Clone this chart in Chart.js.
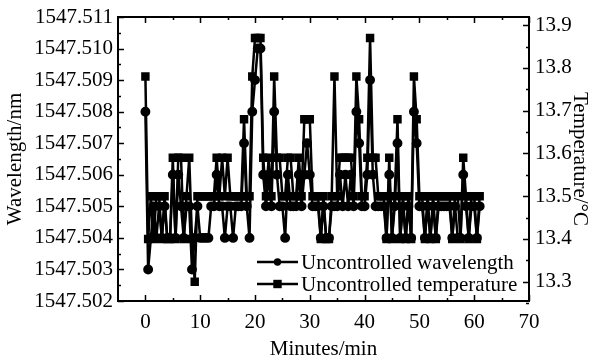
<!DOCTYPE html>
<html>
<head>
<meta charset="utf-8">
<script src="https://cdn.jsdelivr.net/npm/chart.js@4.4.1/dist/chart.umd.min.js"></script>
<style>
  html,body{margin:0;padding:0;background:#fff}
  #wrap{width:594px;height:360px;position:relative}
</style>
</head>
<body>
<div id="wrap"><canvas id="chart"></canvas></div>
<script>
// sample times (min), one reading every half minute
const minutes = [
  0,0.5,1,1.5,2,2.5,3,3.5,4,4.5,
  5,5.5,6,6.5,7,7.5,8,8.5,9,9.5,
  10,10.5,11,11.5,12,12.5,13,13.5,14,14.5,
  15,15.5,16,16.5,17,17.5,18,18.5,19,19.5,
  20,20.5,21,21.5,22,22.5,23,23.5,24,24.5,
  25,25.5,26,26.5,27,27.5,28,28.5,29,29.5,
  30,30.5,31,31.5,32,32.5,33,33.5,34,34.5,
  35,35.5,36,36.5,37,37.5,38,38.5,39,39.5,
  40,40.5,41,41.5,42,42.5,43,43.5,44,44.5,
  45,45.5,46,46.5,47,47.5,48,48.5,49,49.5,
  50,50.5,51,51.5,52,52.5,53,53.5,54,54.5,
  55,55.5,56,56.5,57,57.5,58,58.5,59,59.5,
  60,60.5,61
];
const wavelength = [
  1547.508,1547.503,1547.504,1547.505,1547.504,1547.505,1547.504,1547.505,1547.504,1547.504,
  1547.506,1547.504,1547.506,1547.505,1547.504,1547.505,1547.505,1547.503,1547.504,1547.505,
  1547.504,1547.504,1547.504,1547.504,1547.505,1547.505,1547.506,1547.505,1547.505,1547.504,
  1547.505,1547.505,1547.504,1547.505,1547.505,1547.505,1547.507,1547.505,1547.504,1547.508,
  1547.509,1547.510,1547.510,1547.506,1547.505,1547.506,1547.505,1547.508,1547.506,1547.505,
  1547.505,1547.504,1547.506,1547.505,1547.505,1547.505,1547.506,1547.505,1547.506,1547.507,
  1547.506,1547.505,1547.505,1547.505,1547.504,1547.505,1547.504,1547.504,1547.505,1547.505,
  1547.505,1547.506,1547.505,1547.506,1547.505,1547.506,1547.505,1547.508,1547.507,1547.505,
  1547.505,1547.506,1547.509,1547.506,1547.505,1547.505,1547.505,1547.505,1547.504,1547.506,
  1547.504,1547.505,1547.507,1547.504,1547.505,1547.504,1547.505,1547.504,1547.508,1547.507,
  1547.505,1547.505,1547.504,1547.505,1547.504,1547.505,1547.504,1547.505,1547.505,1547.505,
  1547.505,1547.505,1547.504,1547.505,1547.504,1547.504,1547.506,1547.505,1547.504,1547.505,
  1547.505,1547.504,1547.505
];
const temperature = [
  13.78,13.40,13.50,13.40,13.50,13.50,13.40,13.50,13.40,13.40,
  13.59,13.40,13.59,13.59,13.40,13.50,13.59,13.40,13.30,13.50,
  13.50,13.50,13.50,13.50,13.50,13.50,13.59,13.50,13.59,13.50,
  13.59,13.50,13.50,13.50,13.50,13.50,13.68,13.50,13.50,13.78,
  13.87,13.87,13.87,13.59,13.50,13.59,13.50,13.78,13.59,13.59,
  13.50,13.50,13.59,13.59,13.50,13.50,13.59,13.50,13.68,13.68,
  13.68,13.50,13.50,13.50,13.40,13.50,13.40,13.40,13.50,13.78,
  13.50,13.59,13.59,13.59,13.59,13.59,13.50,13.78,13.68,13.50,
  13.50,13.59,13.87,13.59,13.59,13.50,13.50,13.50,13.40,13.59,
  13.40,13.50,13.68,13.40,13.50,13.40,13.50,13.40,13.78,13.68,
  13.50,13.50,13.40,13.50,13.40,13.50,13.40,13.50,13.50,13.50,
  13.50,13.50,13.40,13.50,13.50,13.40,13.59,13.50,13.40,13.50,
  13.50,13.40,13.50
];
const xTicks = [0,10,20,30,40,50,60,70];
const wlTicks = [1547.502,1547.503,1547.504,1547.505,1547.506,1547.507,1547.508,1547.509,1547.510,1547.511];
const tempTicks = [13.3,13.4,13.5,13.6,13.7,13.8,13.9];
const seriesNames = ['Uncontrolled wavelength','Uncontrolled temperature'];

const FONT = {family:'"Liberation Serif","Times New Roman",serif', size:21, lineHeight:1};
const fontStr = '21px "Liberation Serif","Times New Roman",serif';

// inward ticks, top border and the in-plot legend
const framePlugin = {
  id:'frame',
  afterDatasetsDraw(chart){
    const ctx = chart.ctx, a = chart.chartArea;
    const sx = chart.scales.x, sl = chart.scales.yL, sr = chart.scales.yR;
    ctx.save();
    ctx.strokeStyle = '#000';
    ctx.lineWidth = 2;
    ctx.strokeRect(a.left, a.top, a.right-a.left, a.bottom-a.top);
    ctx.lineWidth = 1.5;
    ctx.beginPath();
    for(let v=0; v<=70; v+=5){
      const px = Math.round(sx.getPixelForValue(v))+0.5;
      const len = (v%10===0) ? 6 : 3;
      ctx.moveTo(px, a.bottom); ctx.lineTo(px, a.bottom-len);
      ctx.moveTo(px, a.top); ctx.lineTo(px, a.top+len);
    }
    for(let i=0;i<=18;i++){
      const v = 1547.502 + i*0.0005;
      const py = Math.round(sl.getPixelForValue(v))+0.5;
      const len = (i%2===0) ? 6 : 3;
      ctx.moveTo(a.left, py); ctx.lineTo(a.left+len, py);
    }
    for(let i=0;i<=13;i++){
      const v = 13.25 + i*0.05;
      if(v > sr.max) break;
      const py = Math.round(sr.getPixelForValue(v))+0.5;
      const len = (i%2===1) ? 6 : 3;
      ctx.moveTo(a.right, py); ctx.lineTo(a.right-len, py);
    }
    ctx.stroke();

    // legend
    const rows = [262, 284];
    chart.data.datasets.forEach((ds, i)=>{
      const y = rows[i];
      ctx.lineWidth = ds.borderWidth;
      ctx.beginPath(); ctx.moveTo(257, y); ctx.lineTo(298, y); ctx.stroke();
      ctx.fillStyle = '#000';
      if(ds.pointStyle==='rect'){
        ctx.fillRect(277.5-ds.pointRadius, y-ds.pointRadius, ds.pointRadius*2, ds.pointRadius*2);
      } else {
        ctx.beginPath(); ctx.arc(277.5, y, ds.pointRadius, 0, Math.PI*2); ctx.fill();
      }
      ctx.font = fontStr;
      ctx.textBaseline = 'middle';
      ctx.textAlign = 'left';
      ctx.fillText(ds.label, 301, y+1);
    });
    ctx.restore();
  }
};

new Chart(document.getElementById('chart'), {
  type:'line',
  data:{
    datasets:[
      {label:seriesNames[0], yAxisID:'yL', data:minutes.map((m,i)=>({x:m,y:wavelength[i]})),
       borderColor:'#000', backgroundColor:'#000', borderWidth:2.5, pointStyle:'circle', pointRadius:3.7, tension:0},
      {label:seriesNames[1], yAxisID:'yR', data:minutes.map((m,i)=>({x:m,y:temperature[i]})),
       borderColor:'#000', backgroundColor:'#000', borderWidth:2.5, pointStyle:'rect', pointRadius:4.2, tension:0}
    ]
  },
  options:{
    responsive:true, maintainAspectRatio:false, animation:false,
    layout:{padding:{top:17,left:0,right:0,bottom:0}},
    plugins:{legend:{display:false}, tooltip:{enabled:false}},
    scales:{
      x:{type:'linear', min:-5, max:70,
         afterBuildTicks:s=>{ s.ticks = xTicks.map(v=>({value:v})); },
         afterFit:s=>{ s.height = 59; },
         grid:{display:false, drawTicks:false}, border:{display:false},
         ticks:{color:'#000', font:FONT, padding:11, maxRotation:0},
         title:{display:true, text:'Minutes/min', color:'#000', font:FONT, padding:{top:0,bottom:0}}},
      yL:{type:'linear', position:'left', min:1547.502, max:1547.511,
         afterBuildTicks:s=>{ s.ticks = wlTicks.map(v=>({value:v})); },
         afterFit:s=>{ s.width = 118; },
         grid:{display:false, drawTicks:false}, border:{display:false},
         ticks:{color:'#000', font:FONT, padding:5, callback:v=>v.toFixed(3)},
         title:{display:true, text:'Wavelength/nm', color:'#000', font:FONT, padding:{top:5,bottom:0}}},
      yR:{type:'linear', position:'right', min:13.255, max:13.919,
         afterBuildTicks:s=>{ s.ticks = tempTicks.map(v=>({value:v})); },
         afterFit:s=>{ s.width = 65; },
         grid:{display:false, drawTicks:false}, border:{display:false},
         ticks:{color:'#000', font:FONT, padding:6, callback:v=>v.toFixed(1)},
         title:{display:true, text:'Temperature/°C', color:'#000', font:FONT, padding:{top:4,bottom:0}}}
    }
  },
  plugins:[framePlugin]
});
</script>
</body>
</html>
